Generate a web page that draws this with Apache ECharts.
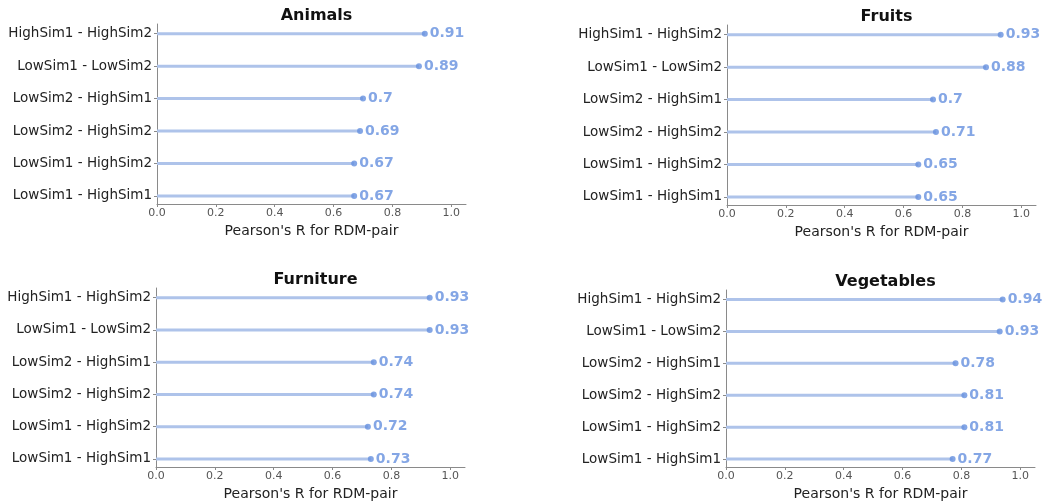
<!DOCTYPE html>
<html>
<head>
<meta charset="utf-8">
<script src="https://cdn.jsdelivr.net/npm/echarts@6/dist/echarts.min.js"></script>
<style>
  html, body { margin: 0; padding: 0; background: #fff; }
  #chart { width: 1045px; height: 502px; }
</style>
</head>
<body>
<div id="chart"></div>
<script>
// rows listed top to bottom, as in the figure
const pairs = [
  'HighSim1 - HighSim2',
  'LowSim1 - LowSim2',
  'LowSim2 - HighSim1',
  'LowSim2 - HighSim2',
  'LowSim1 - HighSim2',
  'LowSim1 - HighSim1',
]
const titles = ['Animals', 'Fruits', 'Furniture', 'Vegetables']
const animals = [0.91, 0.89, 0.7, 0.69, 0.67, 0.67]
const fruits = [0.93, 0.88, 0.7, 0.71, 0.65, 0.65]
const furniture = [0.93, 0.93, 0.74, 0.74, 0.72, 0.73]
const vegetables = [0.94, 0.93, 0.78, 0.81, 0.81, 0.77]
const xTicks = [0, 0.2, 0.4, 0.6, 0.8, 1.0]
const xName = "Pearson's R for RDM-pair"

const panels = [animals, fruits, furniture, vegetables]

const palette = {
  stem: '#aec3ea',
  dot: '#6590de',
  text: '#222',
  muted: '#555',
  spine: '#8a8a8a',
}
const font = "'DejaVu Sans', sans-serif"

const boxes = [
  { left: 157, top: 24, width: 309, height: 180 },
  { left: 727, top: 25, width: 309, height: 180 },
  { left: 156, top: 288, width: 309, height: 180 },
  { left: 726, top: 290, width: 309, height: 179 },
]

const rowIdx = pairs.map((_, i) => i)

const grid = boxes.map((b) => ({ ...b, containLabel: false }))

const title = boxes.map((b, i) => ({
  text: titles[i],
  left: b.left + b.width / 2,
  top: b.top - 21,
  textAlign: 'center',
  textStyle: { fontFamily: font, fontSize: 16, fontWeight: 'bold', color: '#111' },
}))

const xAxis = boxes.map((_, i) => ({
  type: 'value',
  gridIndex: i,
  min: 0,
  max: 1.05,
  name: xName,
  nameLocation: 'middle',
  nameGap: 20,
  nameTextStyle: { fontFamily: font, fontSize: 14, color: palette.text },
  axisLine: { show: true, onZero: false, lineStyle: { color: palette.spine, width: 1 } },
  axisTick: { show: true, length: 3, customValues: xTicks, lineStyle: { color: palette.spine } },
  axisLabel: {
    customValues: xTicks,
    fontFamily: font,
    fontSize: 11,
    color: palette.muted,
    margin: 4,
    formatter: (v) => v.toFixed(1),
  },
  splitLine: { show: false },
}))

const yAxis = boxes.map((_, i) => ({
  type: 'value',
  gridIndex: i,
  inverse: true,
  min: -0.3,
  max: 5.25,
  axisLine: { show: true, onZero: false, lineStyle: { color: palette.spine, width: 1 } },
  axisTick: { show: true, length: 3, customValues: rowIdx, lineStyle: { color: palette.spine } },
  axisLabel: {
    customValues: rowIdx,
    fontFamily: font,
    fontSize: 13.5,
    color: palette.text,
    margin: 5,
    formatter: (v) => pairs[v] ?? '',
  },
  splitLine: { show: false },
}))

const series = []
panels.forEach((values, i) => {
  const data = values.map((v, r) => [v, r])
  series.push({
    type: 'custom',
    xAxisIndex: i,
    yAxisIndex: i,
    silent: true,
    data,
    renderItem(params, api) {
      const start = api.coord([0, api.value(1)])
      const end = api.coord([api.value(0), api.value(1)])
      return {
        type: 'line',
        shape: { x1: start[0], y1: start[1], x2: end[0], y2: end[1] },
        style: { stroke: palette.stem, lineWidth: 3 },
      }
    },
    z: 2,
  })
  series.push({
    type: 'scatter',
    xAxisIndex: i,
    yAxisIndex: i,
    data,
    symbol: 'circle',
    symbolSize: 6,
    itemStyle: { color: palette.dot },
    label: {
      show: true,
      position: 'right',
      distance: 2,
      fontFamily: font,
      fontSize: 14,
      fontWeight: 'bold',
      color: palette.dot,
      formatter: (p) => String(p.value[0]),
    },
    z: 3,
  })
})

const chart = echarts.init(document.getElementById('chart'), null, { renderer: 'canvas' })
chart.setOption({
  backgroundColor: '#fff',
  animation: false,
  title,
  grid,
  xAxis,
  yAxis,
  series,
})
</script>
</body>
</html>
